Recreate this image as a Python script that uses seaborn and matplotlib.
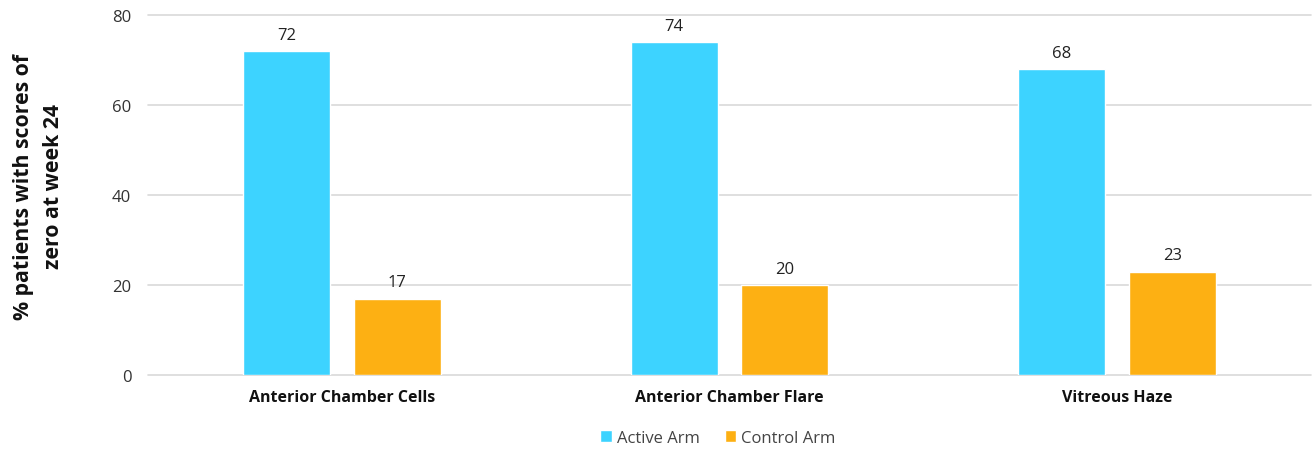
import matplotlib
matplotlib.use("Agg")
import matplotlib.pyplot as plt
import seaborn as sns
import pandas as pd

categories = ["Anterior Chamber Cells", "Anterior Chamber Flare", "Vitreous Haze"]
series_names = ["Active Arm", "Control Arm"]
active_values = [72, 74, 68]
control_values = [17, 20, 23]
y_ticks = [0, 20, 40, 60, 80]

df = pd.DataFrame({
    "category": categories * 2,
    "series": [series_names[0]] * 3 + [series_names[1]] * 3,
    "value": active_values + control_values,
})

sns.set_theme(style="white")
plt.rcParams["font.family"] = ["Open Sans", "DejaVu Sans"]

fig = plt.figure(figsize=(13.13, 4.52), dpi=100)
ax = fig.add_axes([148/1313, 1 - 376/452, (1311-148)/1313, (376-16)/452])

palette = {"Active Arm": "#3DD3FF", "Control Arm": "#FDB013"}
sns.barplot(data=df, x="category", y="value", hue="series", palette=palette,
            width=0.57, gap=0.212, ax=ax, legend=True, saturation=1)

for c in ax.containers:
    ax.bar_label(c, fmt="%d", padding=6, fontsize=12, color="#222222")

ax.set_ylim(0, 80)
ax.set_yticks(y_ticks)
ax.yaxis.grid(True, color="#D9D9D9", linewidth=1.2)
for gl in ax.yaxis.get_gridlines():
    gl.set_clip_on(False)
ax.set_axisbelow(True)
for s in ax.spines.values():
    s.set_visible(False)
ax.tick_params(axis="y", length=0, pad=12, labelsize=12, labelcolor="#333333")
ax.tick_params(axis="x", length=0, pad=10, labelsize=11.5)
for lbl in ax.get_xticklabels():
    lbl.set_fontweight("bold")
    lbl.set_color("#111111")
ax.set_xlabel("")
ax.set_ylabel("% patients with scores of\nzero at week 24", fontsize=15.3,
              fontweight="bold", color="#111111", linespacing=1.55)
ax.yaxis.set_label_coords(-0.0722, 0.526)

ax.legend(loc="upper center", bbox_to_anchor=(0.49, -0.11), ncol=2, frameon=False,
          fontsize=12, handlelength=0.7, handleheight=0.7, handletextpad=0.3,
          columnspacing=1.5, labelcolor="#444444")

fig.savefig("out.png", dpi=100)
